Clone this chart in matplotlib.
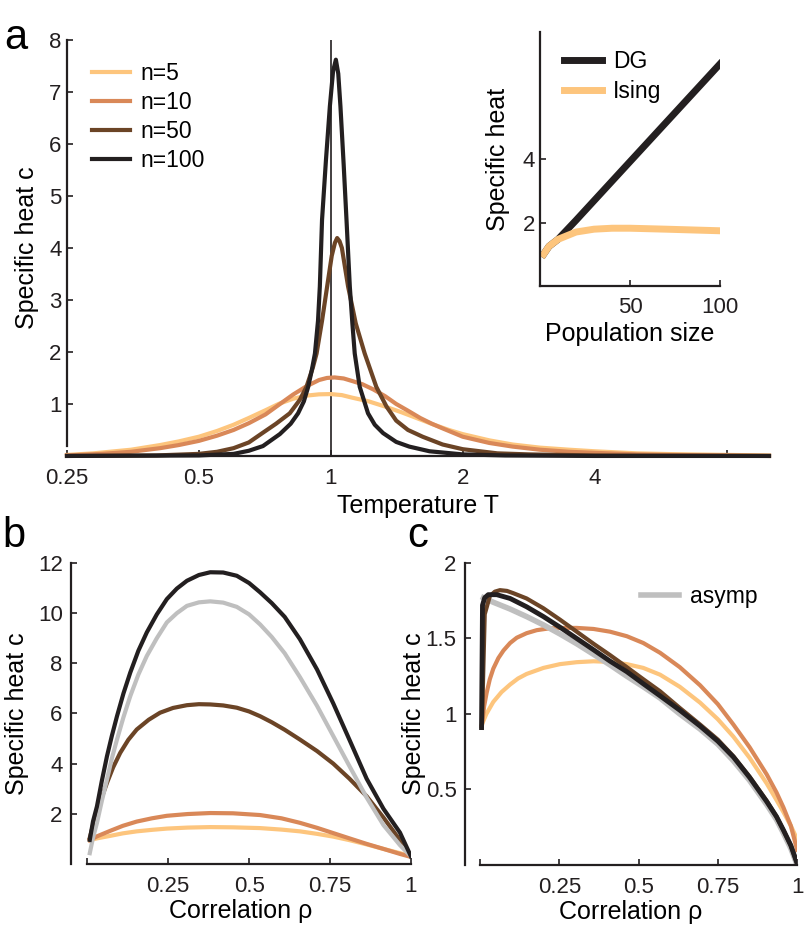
import matplotlib
matplotlib.use('Agg')
from matplotlib import pyplot as plt

plt.rcParams['font.family'] = ['Liberation Sans', 'DejaVu Sans']
plt.rcParams['font.size'] = 16
plt.rcParams['lines.solid_joinstyle'] = 'round'

# colours for population sizes
c5 = '#fdc57d'
c10 = '#d98858'
c50 = '#6b4426'
c100 = '#231f20'
c_asymp = '#bfbfbf'

# panel a: specific heat vs temperature
T5 = [0.25, 0.287, 0.35, 0.408, 0.45, 0.5, 0.55, 0.6, 0.65, 0.71, 0.76, 0.82, 0.88, 0.94, 1.0, 1.06, 1.12,
      1.22, 1.33, 1.45, 1.58, 1.72, 1.86, 2.0, 2.3, 2.6, 3.0, 3.5, 4.0, 5.0, 6.0, 8.0, 10.0]
c_n5 = [0.02, 0.05, 0.12, 0.21, 0.28, 0.37, 0.48, 0.6, 0.73, 0.88, 1.0, 1.1, 1.16, 1.185, 1.19, 1.17, 1.12,
        1.05, 0.95, 0.84, 0.72, 0.6, 0.5, 0.42, 0.3, 0.22, 0.16, 0.12, 0.09, 0.05, 0.035, 0.02, 0.01]
T10 = [0.25, 0.3, 0.35, 0.408, 0.45, 0.5, 0.55, 0.6, 0.65, 0.71, 0.76, 0.82, 0.88, 0.94, 0.98, 1.02, 1.07, 1.12,
       1.18, 1.25, 1.33, 1.41, 1.5, 1.6, 1.7, 1.8, 2.0, 2.3, 2.6, 3.0, 3.5, 4.0, 5.0, 6.0, 8.0, 10.0]
c_n10 = [0.01, 0.04, 0.08, 0.15, 0.21, 0.29, 0.39, 0.5, 0.63, 0.8, 0.98, 1.18, 1.34, 1.46, 1.5, 1.51, 1.49, 1.44,
         1.38, 1.28, 1.15, 1.0, 0.87, 0.73, 0.62, 0.53, 0.37, 0.25, 0.18, 0.12, 0.08, 0.06, 0.03, 0.02, 0.01, 0.0]
T50 = [0.25, 0.4, 0.5, 0.55, 0.6, 0.65, 0.698, 0.75, 0.806, 0.85, 0.88, 0.91, 0.928, 0.955, 0.981, 1.005, 1.022,
       1.034, 1.047, 1.06, 1.095, 1.14, 1.195, 1.27, 1.34, 1.41, 1.5, 1.62, 1.8, 2.0, 2.4, 2.83, 4.0, 10.0]
c_n50 = [0.0, 0.01, 0.04, 0.08, 0.15, 0.26, 0.44, 0.62, 0.82, 1.08, 1.33, 1.7, 1.97, 2.6, 3.26, 3.85, 4.1,
         4.19, 4.13, 4.0, 3.26, 2.55, 1.97, 1.33, 0.95, 0.68, 0.5, 0.37, 0.22, 0.13, 0.05, 0.03, 0.01, 0.0]
T100 = [0.25, 0.5, 0.6, 0.65, 0.7, 0.765, 0.81, 0.842, 0.868, 0.888, 0.905, 0.92, 0.935, 0.944, 0.955, 0.975,
        0.995, 1.012, 1.027, 1.04, 1.052, 1.07, 1.086, 1.105, 1.12, 1.134, 1.164, 1.216, 1.26, 1.316, 1.41,
        1.51, 1.68, 2.0, 2.5, 4.0, 10.0]
c_n100 = [0.0, 0.01, 0.04, 0.1, 0.19, 0.42, 0.62, 0.82, 1.05, 1.33, 1.65, 1.97, 2.6, 3.26, 4.54, 5.7,
          6.72, 7.4, 7.62, 7.35, 6.72, 5.6, 4.54, 3.26, 2.55, 1.97, 1.33, 0.82, 0.6, 0.44, 0.27,
          0.18, 0.09, 0.03, 0.01, 0.0, 0.0]

# inset: specific heat vs population size
N_dg = [2, 5, 10, 20, 50, 100]
c_dg = [1.0, 1.25, 1.47, 2.07, 3.92, 7.0]
N_ising = [2, 5, 10, 20, 30, 40, 50, 70, 100]
c_ising = [1.0, 1.25, 1.47, 1.70, 1.79, 1.82, 1.82, 1.79, 1.74]

# panel b: specific heat vs correlation
rho_b = [0.008, 0.018, 0.03, 0.045, 0.061, 0.076, 0.092, 0.112, 0.133, 0.158, 0.184, 0.215, 0.246, 0.277,
         0.308, 0.345, 0.38, 0.42, 0.462, 0.5, 0.534, 0.57, 0.61, 0.657, 0.71, 0.76, 0.81, 0.863, 0.915,
         0.966, 1.0]
b_n100 = [0.96, 1.7, 2.29, 3.3, 4.29, 5.1, 5.89, 6.8, 7.63, 8.5, 9.23, 9.95, 10.56, 10.98,
          11.29, 11.52, 11.63, 11.62, 11.49, 11.2, 10.83, 10.4, 9.85, 8.96, 7.75, 6.4, 4.95, 3.4, 2.2,
          1.25, 0.3]
b_asymp = [0.43, 1.05, 1.63, 2.5, 3.36, 4.2, 4.96, 5.85, 6.69, 7.55, 8.29, 9.0, 9.63, 10.0,
           10.29, 10.43, 10.47, 10.42, 10.25, 9.95, 9.55, 9.05, 8.4, 7.45, 6.3, 5.1, 3.9, 2.65, 1.55,
           0.75, 0.3]
rho_b50 = [0.008, 0.018, 0.03, 0.045, 0.061, 0.08, 0.102, 0.127, 0.153, 0.19, 0.225, 0.265, 0.308, 0.345,
           0.38, 0.42, 0.462, 0.5, 0.534, 0.57, 0.61, 0.657, 0.71, 0.76, 0.81, 0.863, 0.915, 0.966, 1.0]
b_n50 = [1.05, 1.55, 2.03, 2.65, 3.23, 3.85, 4.43, 4.95, 5.36, 5.75, 6.03, 6.22, 6.33, 6.37,
         6.36, 6.32, 6.23, 6.08, 5.89, 5.65, 5.35, 4.96, 4.5, 4.0, 3.4, 2.7, 1.85, 0.95, 0.3]
rho_b2 = [0.008, 0.03, 0.071, 0.11, 0.153, 0.2, 0.246, 0.31, 0.38, 0.45, 0.534, 0.6, 0.657, 0.71, 0.76,
          0.81, 0.863, 0.915, 0.966, 1.0]
b_n10 = [0.95, 1.1, 1.32, 1.52, 1.69, 1.82, 1.92, 1.99, 2.03, 2.02, 1.95, 1.82, 1.64, 1.44, 1.23,
         1.02, 0.8, 0.6, 0.4, 0.28]
b_n5 = [0.95, 1.02, 1.12, 1.22, 1.3, 1.36, 1.41, 1.45, 1.47, 1.46, 1.43, 1.37, 1.3, 1.2, 1.09,
        0.95, 0.78, 0.6, 0.43, 0.3]

# panel c: specific heat vs correlation (per neuron scaling)
rho_c100 = [0.005, 0.008, 0.015, 0.026, 0.053, 0.095, 0.147, 0.2, 0.252, 0.305, 0.358, 0.41, 0.463, 0.515,
            0.568, 0.63, 0.694, 0.75, 0.799, 0.85, 0.904, 0.935, 0.957, 0.98, 1.0]
c_c100 = [0.91, 1.72, 1.77, 1.79, 1.79, 1.765, 1.71, 1.645, 1.575, 1.5, 1.425, 1.35, 1.28, 1.2,
          1.12, 1.025, 0.92, 0.82, 0.715, 0.58, 0.42, 0.32, 0.23, 0.13, 0.01]
rho_cas = [0.011, 0.042, 0.095, 0.147, 0.2, 0.252, 0.305, 0.358, 0.41, 0.463, 0.515, 0.568, 0.63, 0.694,
           0.75, 0.799, 0.85, 0.904, 0.935, 0.957, 0.98, 1.0]
c_cas = [1.77, 1.74, 1.695, 1.645, 1.59, 1.53, 1.465, 1.395, 1.325, 1.25, 1.18, 1.105, 1.0, 0.9,
         0.8, 0.69, 0.56, 0.4, 0.3, 0.21, 0.11, 0.0]
rho_c50 = [0.006, 0.015, 0.031, 0.047, 0.063, 0.085, 0.105, 0.147, 0.2, 0.252, 0.305, 0.358, 0.41, 0.463,
           0.515, 0.568, 0.63, 0.694, 0.75, 0.799, 0.85, 0.904, 0.935, 0.957, 0.98, 1.0]
c_c50 = [0.92, 1.66, 1.78, 1.81, 1.82, 1.815, 1.80, 1.765, 1.70, 1.625, 1.545, 1.465, 1.39, 1.31,
         1.23, 1.15, 1.04, 0.93, 0.83, 0.72, 0.585, 0.425, 0.32, 0.23, 0.13, 0.01]
rho_c10 = [0.006, 0.013, 0.021, 0.031, 0.042, 0.058, 0.074, 0.095, 0.116, 0.147, 0.179, 0.215, 0.252,
           0.305, 0.358, 0.41, 0.463, 0.515, 0.568, 0.63, 0.694, 0.75, 0.799, 0.85, 0.904, 0.935, 0.957,
           0.98, 1.0]
c_c10 = [0.92, 1.05, 1.14, 1.23, 1.3, 1.37, 1.42, 1.47, 1.505, 1.535, 1.555, 1.566, 1.57,
         1.57, 1.563, 1.545, 1.515, 1.47, 1.405, 1.31, 1.19, 1.065, 0.93, 0.78, 0.6, 0.48, 0.38,
         0.26, 0.1]
rho_c5 = [0.006, 0.02, 0.042, 0.068, 0.095, 0.12, 0.147, 0.2, 0.252, 0.305, 0.358, 0.41, 0.463, 0.515,
          0.568, 0.63, 0.694, 0.75, 0.799, 0.85, 0.904, 0.935, 0.957, 0.98, 1.0]
c_c5 = [0.93, 1.0, 1.08, 1.145, 1.195, 1.235, 1.265, 1.305, 1.33, 1.343, 1.349, 1.345, 1.33, 1.305,
        1.26, 1.18, 1.075, 0.965, 0.85, 0.71, 0.54, 0.43, 0.35, 0.26, 0.17]


def matlab_axes(ax):
    ax.spines['top'].set_visible(False)
    ax.spines['right'].set_visible(False)
    ax.tick_params(direction='in', length=4, width=1.2, colors='#231f20')
    for s in ('left', 'bottom'):
        ax.spines[s].set_linewidth(1.6)
        ax.spines[s].set_color('#231f20')


leg_kw = dict(frameon=False, fontsize=16.5, handlelength=1.66, handletextpad=0.48,
              labelspacing=0.27, borderaxespad=0, borderpad=0)

fig = plt.figure(figsize=(8.06, 9.33), dpi=100)

# ---- panel a
axa = fig.add_axes([0.0831, 0.5113, 0.871, 0.4459])
matlab_axes(axa)
lw = 3.0
axa.plot([1, 1], [0, 8], color='#231f20', lw=1.2)
axa.plot(T5, c_n5, color=c5, lw=lw, label='n=5', clip_on=False)
axa.plot(T10, c_n10, color=c10, lw=lw, label='n=10', clip_on=False)
axa.plot(T50, c_n50, color=c50, lw=lw, label='n=50', clip_on=False)
axa.plot(T100, c_n100, color=c100, lw=lw, label='n=100', clip_on=False)
axa.set_xscale('log', base=2)
axa.set_xlim(0.25, 10)
axa.set_ylim(0, 8)
axa.spines['left'].set_bounds(0.2, 8)
axa.set_xticks([0.25, 0.5, 1, 2, 4, 8])
axa.set_xticklabels(['0.25', '0.5', '1', '2', '4', ''])
axa.xaxis.set_minor_locator(matplotlib.ticker.NullLocator())
axa.set_yticks([1, 2, 3, 4, 5, 6, 7, 8])
axa.tick_params(axis='x', pad=9)
axa.tick_params(axis='y', pad=4)
axa.set_xlabel('Temperature T', fontsize=18, labelpad=3)
axa.set_ylabel('Specific heat c', fontsize=18, labelpad=7)
axa.legend(loc='upper left', bbox_to_anchor=(0.114, 0.934), bbox_transform=fig.transFigure, **leg_kw)

# ---- inset
axi = fig.add_axes([0.670, 0.6935, 0.2233, 0.272])
matlab_axes(axi)
axi.plot(N_dg, c_dg, color=c100, lw=5, label='DG')
axi.plot(N_ising, c_ising, color=c5, lw=5, label='Ising')
axi.set_xlim(0, 100)
axi.set_ylim(0, 8)
axi.set_xticks([50, 100])
axi.set_yticks([2, 4])
axi.tick_params(axis='x', pad=8)
axi.set_xlabel('Population size', fontsize=18, labelpad=3)
axi.set_ylabel('Specific heat', fontsize=18, labelpad=9)
axi.legend(loc='upper left', bbox_to_anchor=(0.700, 0.946), bbox_transform=fig.transFigure, **leg_kw)

# ---- panel b
axb = fig.add_axes([0.0881, 0.074, 0.4218, 0.3226])
matlab_axes(axb)
axb.plot(rho_b2, b_n5, color=c5, lw=lw)
axb.plot(rho_b2, b_n10, color=c10, lw=lw)
axb.plot(rho_b50, b_n50, color=c50, lw=lw)
axb.plot(rho_b, b_asymp, color=c_asymp, lw=lw)
axb.plot(rho_b, b_n100, color=c100, lw=lw)
axb.set_xlim(-0.05, 1)
axb.set_ylim(0, 12)
axb.spines['bottom'].set_bounds(0, 1)
axb.set_xticks([0, 0.25, 0.5, 0.75, 1])
axb.set_xticklabels(['', '0.25', '0.5', '0.75', '1'])
axb.set_yticks([2, 4, 6, 8, 10, 12])
axb.tick_params(axis='x', pad=9)
axb.tick_params(axis='y', pad=6)
axb.set_xlabel('Correlation ρ', fontsize=18, labelpad=1)
axb.set_ylabel('Specific heat c', fontsize=18, labelpad=6)

# ---- panel c
axc = fig.add_axes([0.577, 0.0729, 0.412, 0.3237])
matlab_axes(axc)
axc.plot(rho_c5, c_c5, color=c5, lw=lw)
axc.plot(rho_c10, c_c10, color=c10, lw=lw)
axc.plot(rho_cas, c_cas, color=c_asymp, lw=lw + 1, label='asymp')
axc.plot(rho_c50, c_c50, color=c50, lw=lw)
axc.plot(rho_c100, c_c100, color=c100, lw=lw + 0.5)
axc.set_xlim(-0.047, 1)
axc.set_ylim(0, 2)
axc.spines['bottom'].set_bounds(0, 1)
axc.set_xticks([0, 0.25, 0.5, 0.75, 1])
axc.set_xticklabels(['', '0.25', '0.5', '0.75', '1'])
axc.set_yticks([0.5, 1, 1.5, 2])
axc.set_yticklabels(['0.5', '1', '1.5', '2'])
axc.tick_params(axis='x', pad=9)
axc.tick_params(axis='y', pad=6)
axc.set_xlabel('Correlation ρ', fontsize=18, labelpad=1)
axc.set_ylabel('Specific heat c', fontsize=18, labelpad=0)
h, l = axc.get_legend_handles_labels()
axc.legend(h, l, loc='upper left', bbox_to_anchor=(0.795, 0.3727), bbox_transform=fig.transFigure, **leg_kw)

# panel letters
fig.text(0.005, 0.947, 'a', fontsize=30)
fig.text(0.003, 0.414, 'b', fontsize=30)
fig.text(0.505, 0.414, 'c', fontsize=30)

fig.savefig('out.png', dpi=100)
